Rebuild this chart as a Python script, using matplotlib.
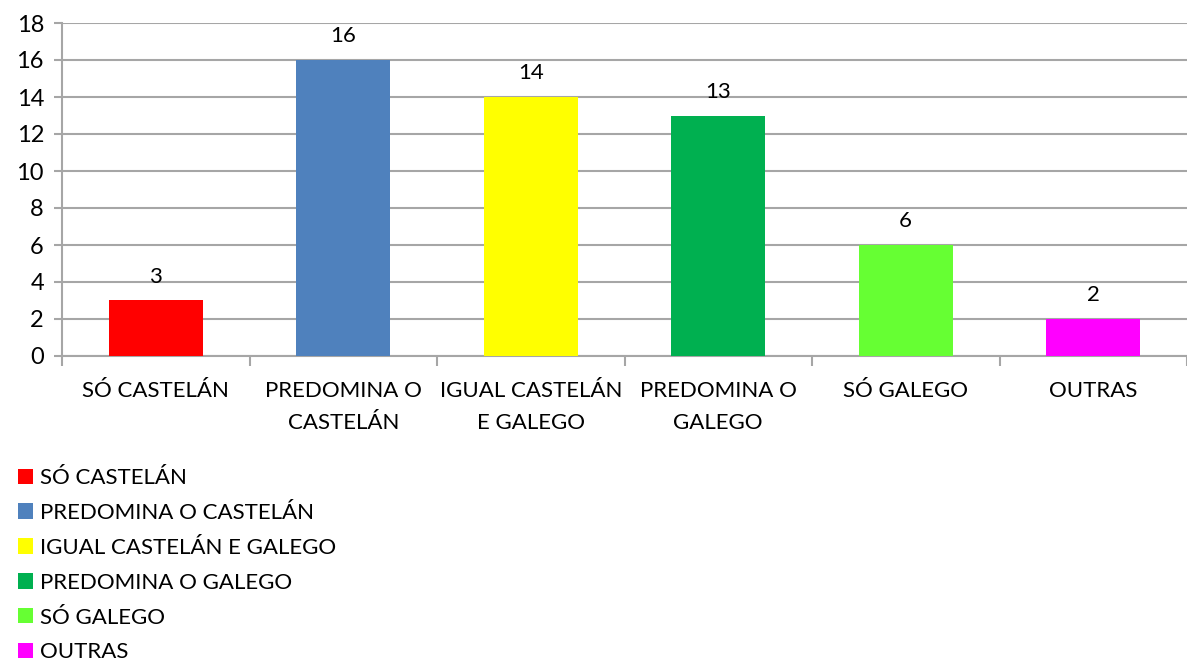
import matplotlib
matplotlib.use("Agg")
import matplotlib.pyplot as plt
from matplotlib.patches import Patch

categories = ["SÓ CASTELÁN", "PREDOMINA O CASTELÁN", "IGUAL CASTELÁN E GALEGO",
              "PREDOMINA O GALEGO", "SÓ GALEGO", "OUTRAS"]
tick_labels = ["SÓ CASTELÁN", "PREDOMINA O\nCASTELÁN", "IGUAL CASTELÁN\nE GALEGO",
               "PREDOMINA O\nGALEGO", "SÓ GALEGO", "OUTRAS"]
values = [3, 16, 14, 13, 6, 2]
colors = ["#ff0000", "#4f81bd", "#ffff00", "#00b050", "#66ff33", "#ff00ff"]

plt.rcParams['font.family'] = ['Lato', 'DejaVu Sans']
grid_col = "#a6a6a6"
fs = 16

fig = plt.figure(figsize=(11.87, 6.59), dpi=100)
ax = fig.add_axes([62 / 1187, 1 - 356 / 659, 1 - 62 / 1187, (356 - 23) / 659])

x = range(len(values))
bars = ax.bar(x, values, width=0.5, color=colors, zorder=3)
for xi, v in zip(x, values):
    ax.annotate(str(v), (xi, v), xytext=(0, 10), textcoords="offset points",
                ha="center", va="bottom", fontsize=fs)

ax.set_xlim(-0.5, len(values) - 0.5)
ax.set_ylim(0, 18)
ax.set_yticks(range(0, 19, 2))
ax.yaxis.grid(True, color=grid_col, linewidth=1.5, zorder=0)
ax.tick_params(axis="y", labelsize=17, length=6, width=1.5, color=grid_col, pad=7)

ax.set_xticks(list(x))
ax.set_xticklabels(tick_labels, fontsize=fs, linespacing=1.75)
ax.tick_params(axis="x", length=0, pad=18)
ax.set_xticks([i - 0.5 for i in range(len(values) + 1)], minor=True)
ax.tick_params(axis="x", which="minor", length=7, width=1.5, color=grid_col)

for s in ["top", "right"]:
    ax.spines[s].set_visible(False)
for s in ["left", "bottom"]:
    ax.spines[s].set_color(grid_col)
    ax.spines[s].set_linewidth(1.5)

handles = [Patch(facecolor=c, label=l) for c, l in zip(colors, categories)]
fig.legend(handles=handles, loc="upper left", bbox_to_anchor=(0.015, 1 - 468 / 659),
           frameon=False, fontsize=fs, handlelength=0.68, handleheight=0.68,
           handletextpad=0.3, labelspacing=0.67, borderaxespad=0, borderpad=0)

fig.savefig("out.png", dpi=100)
